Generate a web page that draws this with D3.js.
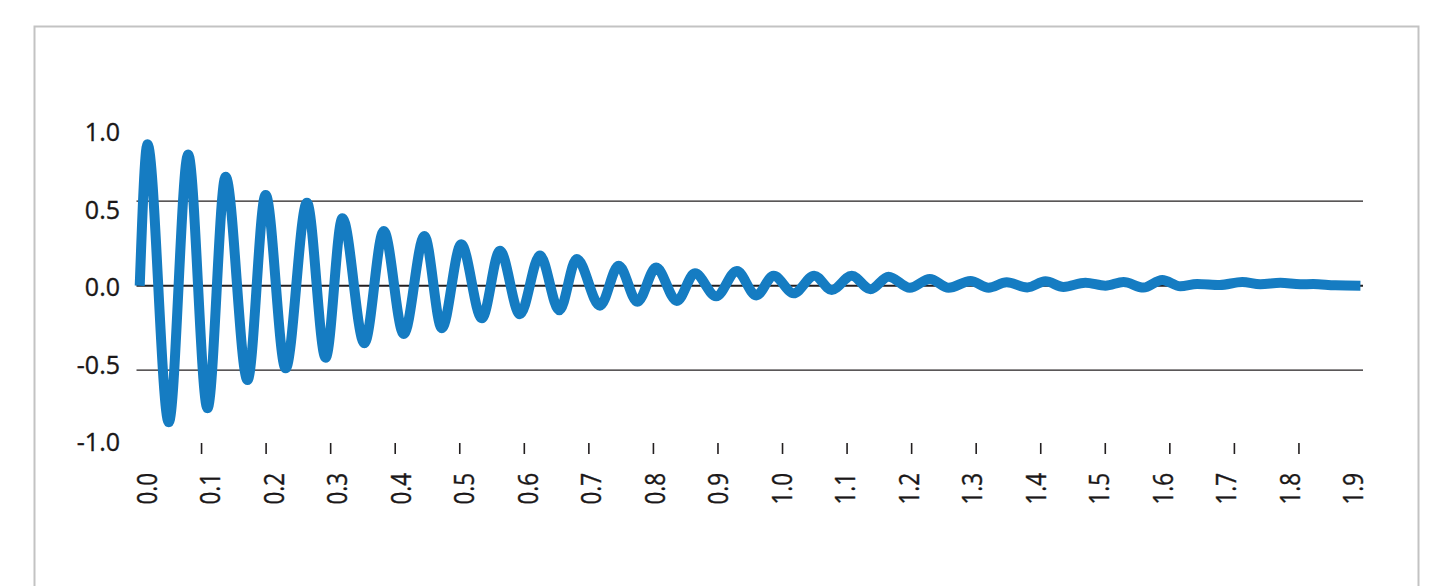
<!DOCTYPE html>
<html>
<head>
<meta charset="utf-8">
<script src="https://cdn.jsdelivr.net/npm/d3@7"></script>
<style>
  html, body { margin: 0; padding: 0; background: #fff; }
  svg { display: block; }
  text { font-family: "Open Sans", "DejaVu Sans", sans-serif; fill: #1a1718; font-weight: 400; }
</style>
</head>
<body>
<svg id="chart" width="1442" height="586"></svg>
<script>
// Damped response: time (s) of each turning point and its amplitude
const times = [
  0.005, 0.017, 0.050, 0.080, 0.110, 0.138, 0.172, 0.200, 0.231, 0.264,
  0.293, 0.319, 0.353, 0.383, 0.414, 0.446, 0.473, 0.503, 0.535, 0.563,
  0.594, 0.625, 0.655, 0.682, 0.718, 0.747, 0.776, 0.805, 0.837, 0.865,
  0.898, 0.930, 0.960, 0.987, 1.018, 1.050, 1.077, 1.108, 1.137, 1.165,
  1.198, 1.229, 1.258, 1.292, 1.320, 1.348, 1.380, 1.408, 1.436, 1.470,
  1.501, 1.529, 1.560, 1.589, 1.617, 1.643, 1.678, 1.713, 1.741, 1.772,
  1.803, 1.823, 1.857, 1.896
];
const amplitudes = [
  0.000, 0.837, -0.808, 0.777, -0.725, 0.645, -0.558, 0.537, -0.489, 0.491,
  -0.426, 0.399, -0.341, 0.324, -0.286, 0.294, -0.252, 0.245, -0.193, 0.207,
  -0.169, 0.178, -0.146, 0.158, -0.118, 0.118, -0.095, 0.107, -0.090, 0.073,
  -0.063, 0.087, -0.058, 0.059, -0.045, 0.059, -0.025, 0.059, -0.021, 0.053,
  -0.012, 0.040, -0.012, 0.028, -0.012, 0.020, -0.010, 0.026, -0.007, 0.018,
  0.000, 0.022, -0.011, 0.034, -0.003, 0.010, 0.004, 0.022, 0.008, 0.017,
  0.008, 0.010, 0.002, 0.000
];

// Axis tick values and labels
const xTickMarks = [0.1, 0.2, 0.3, 0.4, 0.5, 0.6, 0.7, 0.8, 0.9, 1.0,
                    1.1, 1.2, 1.3, 1.4, 1.5, 1.6, 1.7, 1.8];
const xTickLabels = ["0.0", "0.1", "0.2", "0.3", "0.4", "0.5", "0.6", "0.7", "0.8", "0.9",
                     "1.0", "1.1", "1.2", "1.3", "1.4", "1.5", "1.6", "1.7", "1.8", "1.9"];
const yTickValues = [1.0, 0.5, 0.0, -0.5, -1.0];
const yTickLabels = ["1.0", "0.5", "0.0", "-0.5", "-1.0"];
const gridValues = [0.5, -0.5];

const svg = d3.select("#chart");

// Outer frame
svg.append("rect")
  .attr("x", 34.5).attr("y", 26.5)
  .attr("width", 1384).attr("height", 600)
  .attr("fill", "none")
  .attr("stroke", "#c3c3c3")
  .attr("stroke-width", 2);

// Scales
const x = d3.scaleLinear().domain([0, 1.9]).range([136.5, 1363]);
const y = d3.scaleLinear().domain([-1, 1]).range([454.7, 116.7]);
const xLabel = d3.scaleLinear().domain([0, 1.9]).range([146.7, 1353.3]);
const yLabel = d3.scaleLinear().domain([-1, 1]).range([442, 132]);

// Horizontal gridlines
svg.append("g").selectAll("line")
  .data(gridValues)
  .join("line")
  .attr("x1", x(0)).attr("x2", x(1.9))
  .attr("y1", d => y(d)).attr("y2", d => y(d))
  .attr("stroke", "#231f20")
  .attr("stroke-width", 1.2);

// Zero line
svg.append("line")
  .attr("x1", x(0)).attr("x2", x(1.9))
  .attr("y1", y(0)).attr("y2", y(0))
  .attr("stroke", "#231f20")
  .attr("stroke-width", 2);

// Y labels
svg.append("g").selectAll("text")
  .data(yTickValues)
  .join("text")
  .attr("x", 120)
  .attr("y", d => yLabel(d))
  .attr("dy", "0.36em")
  .attr("text-anchor", "end")
  .attr("font-size", 25)
  .attr("stroke", "#1a1718")
  .attr("stroke-width", 0.35)
  .text((d, i) => yTickLabels[i]);

// X tick marks
const xAxis = d3.axisBottom(x)
  .tickValues(xTickMarks)
  .tickSize(11)
  .tickFormat("");
const gx = svg.append("g")
  .attr("transform", "translate(0,443)")
  .call(xAxis);
gx.select(".domain").remove();
gx.selectAll(".tick line")
  .attr("stroke", "#231f20")
  .attr("stroke-width", 1.6);

// X labels (rotated)
svg.append("g").selectAll("text")
  .data(xTickLabels)
  .join("text")
  .attr("transform", (d, i) => `translate(${xLabel(i / 10)},473) rotate(-90) scale(0.9,1.12)`)
  .attr("dy", "0.36em")
  .attr("text-anchor", "end")
  .attr("font-size", 25)
  .attr("stroke", "#1a1718")
  .attr("stroke-width", 0.35)
  .text(d => d);

// Signal line
const line = d3.line()
  .x((d, i) => x(times[i]))
  .y(d => y(d))
  .curve(d3.curveMonotoneX);

svg.append("path")
  .datum(amplitudes)
  .attr("d", line)
  .attr("fill", "none")
  .attr("stroke", "#157cc2")
  .attr("stroke-width", 10)
  .attr("stroke-linejoin", "round")
  .attr("stroke-linecap", "butt");
</script>
</body>
</html>
